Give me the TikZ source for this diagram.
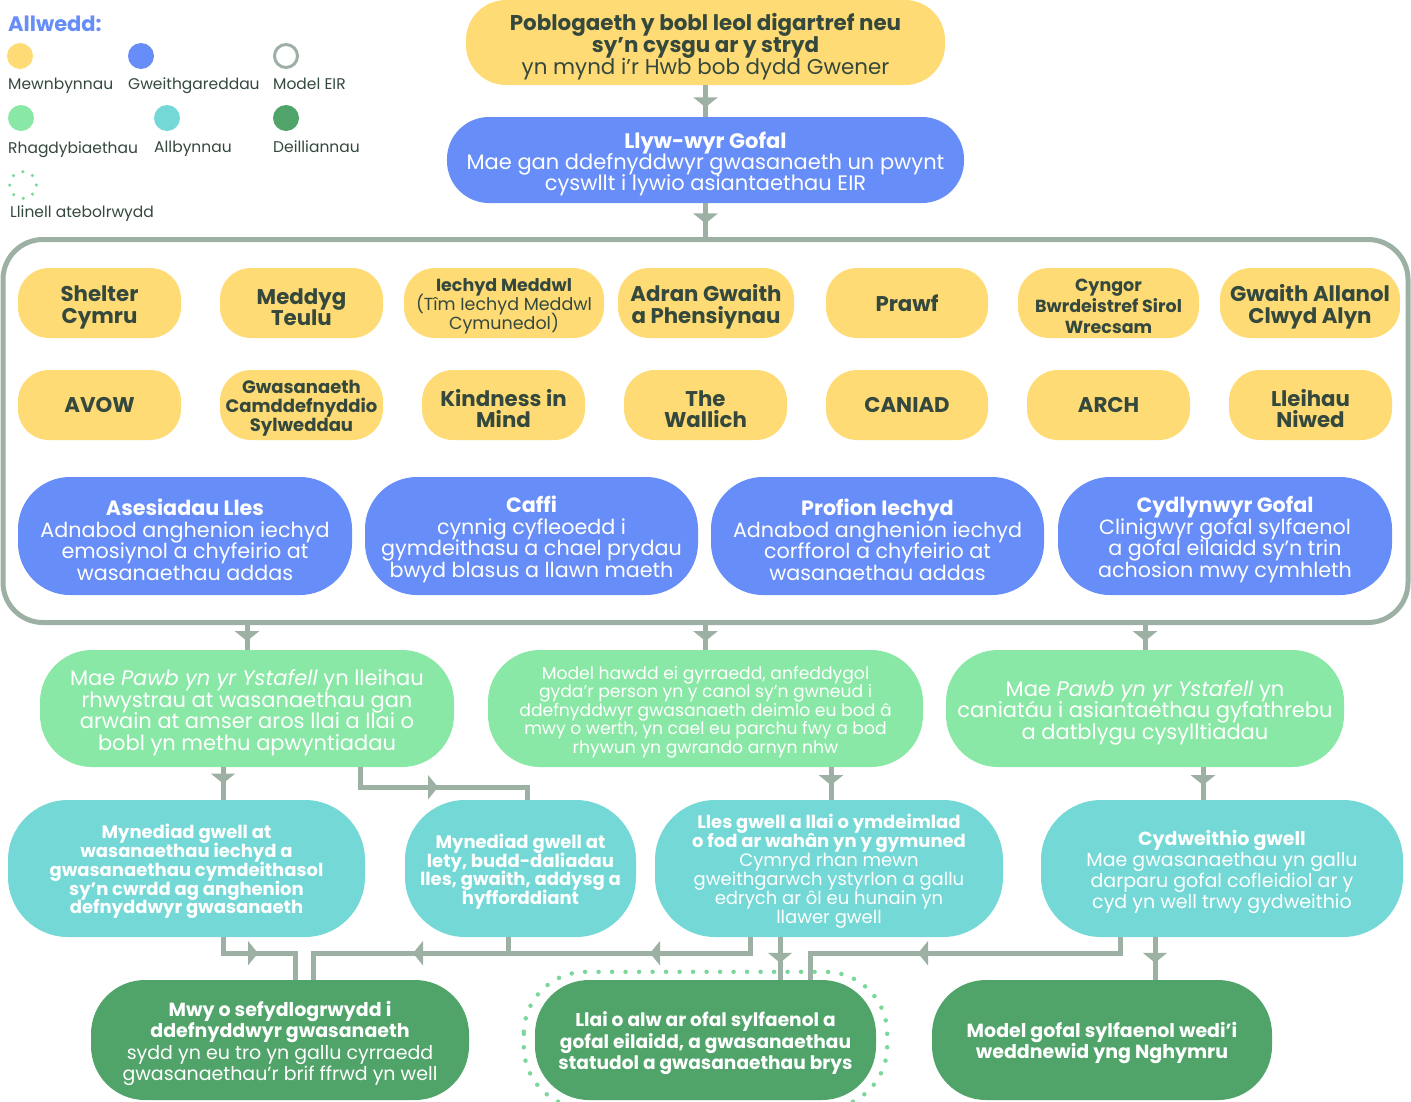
\documentclass[tikz,border=0pt]{standalone}
\usepackage{fontspec}
\setmainfont{Poppins}
\usepackage{tikz}
\usetikzlibrary{arrows.meta}
\usetikzlibrary{decorations.markings}

\definecolor{mewnc}{HTML}{FEDB74}
\definecolor{gweithc}{HTML}{678DF8}
\definecolor{rhagc}{HTML}{8AE8A6}
\definecolor{allbc}{HTML}{74D9D6}
\definecolor{deillc}{HTML}{50A46A}
\definecolor{llinc}{HTML}{9DB0A4}
\definecolor{atebc}{HTML}{7DD69A}
\definecolor{testunc}{HTML}{34483D}

\newcommand{\maint}[2]{\fontsize{#1}{#2}\selectfont\lineskiplimit=-50pt}
% strut for the first line, pushes the text block down a little
\newcommand{\uchaf}{\rule{0pt}{1.15em}}

\begin{document}
\begin{tikzpicture}[x=1pt, y=-1pt,
	pill/.style={rectangle, rounded corners=#1, inner sep=0pt, align=center},
	mewn/.style={pill=31pt, fill=mewnc, text=testunc, minimum width=163pt, minimum height=70pt, font=\bfseries\maint{21.3}{21.5}},
	mewnbach/.style={mewn, font=\maint{17.5}{19}},
	gweith/.style={pill=52pt, fill=gweithc, text=white, minimum width=333pt, minimum height=118pt, font=\maint{20.7}{21.5}},
	rhag/.style={pill=52pt, fill=rhagc, text=white, minimum height=117pt, font=\maint{21}{21.5}},
	allb/.style={pill=60pt, fill=allbc, text=white, minimum height=137pt, font=\maint{18}{18.7}},
	deill/.style={pill=54pt, fill=deillc, text=white, minimum height=120pt, font=\maint{19}{21.5}},
	cyswllt/.style={draw=llinc, line width=5pt},
	saeth/.style={postaction={decorate, decoration={markings, mark=at position #1 with {\arrow{Triangle[width=24pt,length=10pt]}}}}},
	saeth/.default=0.6,
	atebol/.style={draw=atebc, line cap=round, dash pattern=on 0pt off #1},
	allwedd/.style={anchor=base west, text=testunc, font=\maint{15.5}{17}, inner sep=0pt},
	]
	\useasboundingbox (0,0) rectangle (1411,1101);

	% allwedd
	\node[allwedd, text=gweithc, font=\bfseries\maint{21}{21}] (teitl) at (8,31) {Allwedd:};
	\node[circle, fill=mewnc, minimum size=26pt, inner sep=0pt] (k-mewn) at (20,56) {};
	\node[circle, fill=gweithc, minimum size=26pt, inner sep=0pt] (k-gweith) at (141,56) {};
	\node[circle, draw=llinc, line width=3pt, minimum size=23pt, inner sep=0pt] (k-eir) at (286,56) {};
	\node[circle, fill=rhagc, minimum size=26pt, inner sep=0pt] (k-rhag) at (21,118) {};
	\node[circle, fill=allbc, minimum size=26pt, inner sep=0pt] (k-allb) at (167,118) {};
	\node[circle, fill=deillc, minimum size=26pt, inner sep=0pt] (k-deill) at (286,118) {};
	\draw[atebol=10.45pt, line width=3.5pt] (23,185) circle (13.3pt);
	\node[allwedd] (l-mewn) at (8,89) {Mewnbynnau};
	\node[allwedd] (l-gweith) at (128,89) {Gweithgareddau};
	\node[allwedd] (l-eir) at (273,89) {Model EIR};
	\node[allwedd] (l-rhag) at (8,153) {Rhagdybiaethau};
	\node[allwedd] (l-allb) at (154,152) {Allbynnau};
	\node[allwedd] (l-deill) at (273,152) {Deilliannau};
	\node[allwedd] (l-ateb) at (10,217) {Llinell atebolrwydd};

	% top
	\node[mewn, pill=40pt, minimum width=479pt, minimum height=85pt, font=\maint{21.4}{22}] (pobl) at (705.5,42.5)
		{\uchaf\textbf{Poblogaeth y bobl leol digartref neu}\\\textbf{sy’n cysgu ar y stryd}\\yn mynd i’r Hwb bob dydd Gwener};
	\node[gweith, pill=42pt, minimum width=517pt, minimum height=86pt, font=\maint{21}{21}] (llyw) at (705.5,160)
		{\uchaf\textbf{Llyw-wyr Gofal}\\Mae gan ddefnyddwyr gwasanaeth un pwynt\\cyswllt i lywio asiantaethau EIR};

	% model EIR
	\node[draw=llinc, line width=5pt, rounded corners=40pt, minimum width=1405pt, minimum height=383pt, inner sep=0pt] (eir) at (705.5,431) {};

	\node[mewn] (shelter) at (99.5,303) {\uchaf Shelter\\Cymru};
	\node[mewn] (meddyg) at (301.5,303) {\uchaf Meddyg\\Teulu};
	\node[mewnbach, minimum width=200pt] (iechyd) at (504,303) {\uchaf\textbf{Iechyd Meddwl}\\(Tîm Iechyd Meddwl\\Cymunedol)};
	\node[mewn, minimum width=176pt] (adran) at (706,303) {\uchaf Adran Gwaith\\a Phensiynau};
	\node[mewn, minimum width=162pt] (prawf) at (907,303) {Prawf};
	\node[mewnbach, minimum width=181pt, font=\bfseries\maint{17.5}{21}] (cyngor) at (1108.5,303) {\uchaf Cyngor\\Bwrdeistref Sirol\\Wrecsam};
	\node[mewn, minimum width=180pt] (gwaith) at (1310,303) {\uchaf Gwaith Allanol\\Clwyd Alyn};

	\node[mewn] (avow) at (99.5,405) {AVOW};
	\node[mewnbach, font=\bfseries\maint{18}{19}] (camdd) at (301.5,405) {\uchaf Gwasanaeth\\Camddefnyddio\\Sylweddau};
	\node[mewn] (kindness) at (503.5,405) {\uchaf Kindness in\\Mind};
	\node[mewn] (wallich) at (705.5,405) {\uchaf The\\Wallich};
	\node[mewn, minimum width=162pt] (caniad) at (907,405) {CANIAD};
	\node[mewn] (arch) at (1108.5,405) {ARCH};
	\node[mewn] (lleihau) at (1310.5,405) {\uchaf Lleihau\\Niwed};

	\node[gweith, minimum width=334pt] (asesiad) at (185,536)
		{\uchaf\textbf{Asesiadau Lles}\\Adnabod anghenion iechyd\\emosiynol a chyfeirio at\\wasanaethau addas};
	\node[gweith] (caffi) at (531.5,536)
		{\uchaf\textbf{Caffi}\\cynnig cyfleoedd i\\gymdeithasu a chael prydau\\bwyd blasus a llawn maeth};
	\node[gweith] (profion) at (877.5,536)
		{\uchaf\textbf{Profion Iechyd}\\Adnabod anghenion iechyd\\corfforol a chyfeirio at\\wasanaethau addas};
	\node[gweith, minimum width=334pt] (cydlyn) at (1225,536)
		{\uchaf\textbf{Cydlynwyr Gofal}\\Clinigwyr gofal sylfaenol\\a gofal eilaidd sy’n trin\\achosion mwy cymhleth};

	% rhagdybiaethau
	\node[rhag, minimum width=414pt] (g1) at (247,708.5)
		{\uchaf Mae \textit{Pawb yn yr Ystafell} yn lleihau\\rhwystrau at wasanaethau gan\\arwain at amser aros llai a llai o\\bobl yn methu apwyntiadau};
	\node[rhag, minimum width=435pt, font=\maint{17.2}{18.5}] (g2) at (705.5,708.5)
		{\uchaf Model hawdd ei gyrraedd, anfeddygol\\gyda’r person yn y canol sy’n gwneud i\\ddefnyddwyr gwasanaeth deimlo eu bod â\\mwy o werth, yn cael eu parchu fwy a bod\\rhywun yn gwrando arnyn nhw};
	\node[rhag, minimum width=398pt] (g3) at (1145,708.5)
		{\uchaf Mae \textit{Pawb yn yr Ystafell} yn\\caniatáu i asiantaethau gyfathrebu\\a datblygu cysylltiadau};

	% allbynnau
	\node[allb, minimum width=357pt, font=\bfseries\maint{18}{18.7}] (t1) at (186.5,868.5)
		{\uchaf Mynediad gwell at\\wasanaethau iechyd a\\gwasanaethau cymdeithasol\\sy’n cwrdd ag anghenion\\defnyddwyr gwasanaeth};
	\node[allb, minimum width=231pt, font=\bfseries\maint{18}{18.7}] (t2) at (520.5,868.5)
		{\uchaf Mynediad gwell at\\lety, budd-daliadau\\lles, gwaith, addysg a\\hyfforddiant};
	\node[allb, minimum width=348pt, font=\maint{18}{19}] (t3) at (829,868.5)
		{\uchaf\textbf{Lles gwell a llai o ymdeimlad}\\\textbf{o fod ar wahân yn y gymuned}\\Cymryd rhan mewn\\gweithgarwch ystyrlon a gallu\\edrych ar ôl eu hunain yn\\llawer gwell};
	\node[allb, minimum width=362pt, font=\maint{19}{21}] (t4) at (1222,868.5)
		{\uchaf\textbf{Cydweithio gwell}\\Mae gwasanaethau yn gallu\\darparu gofal cofleidiol ar y\\cyd yn well trwy gydweithio};

	% deilliannau
	\node[deill, minimum width=378pt] (d1) at (280,1040)
		{\uchaf\textbf{Mwy o sefydlogrwydd i}\\\textbf{ddefnyddwyr gwasanaeth}\\sydd yn eu tro yn gallu cyrraedd\\gwasanaethau’r brif ffrwd yn well};
	\node[deill, minimum width=341pt, font=\bfseries\maint{18.6}{21.5}] (d2) at (705.5,1040)
		{\uchaf Llai o alw ar ofal sylfaenol a\\gofal eilaidd, a gwasanaethau\\statudol a gwasanaethau brys};
	\node[deill, minimum width=340pt, font=\bfseries\maint{19}{21}] (d3) at (1102,1040)
		{\uchaf Model gofal sylfaenol wedi’i\\weddnewid yng Nghymru};
	\draw[atebol=13.5pt, line width=4.5pt, rounded corners=62pt]
		([xshift=-11pt,yshift=8pt]d2.north west) rectangle ([xshift=11pt,yshift=-8pt]d2.south east);

	% cysylltiadau
	\draw[cyswllt, saeth=0.7] (pobl.south) -- (pobl.south |- llyw.north);
	\draw[cyswllt, saeth=0.6] (llyw.south) -- (llyw.south |- eir.north);
	\draw[cyswllt, saeth=0.65] (eir.south -| g1.north) -- (g1.north);
	\draw[cyswllt, saeth=0.65] (eir.south -| g2.north) -- (g2.north);
	\draw[cyswllt, saeth=0.65] (eir.south -| g3.north) -- (g3.north);
	\draw[cyswllt, saeth=0.5] ([xshift=-24pt]g1.south) -- ([xshift=-24pt]g1.south |- t1.north);
	\draw[cyswllt, saeth=98pt] ([xshift=113pt]g1.south) -- ++(0,20) -| ([xshift=6.5pt]t2.north);
	\draw[cyswllt, saeth=0.55] ([xshift=2pt]t3.north |- g2.south) -- ([xshift=2pt]t3.north);
	\draw[cyswllt, saeth=0.55] ([xshift=-19pt]t4.north |- g3.south) -- ([xshift=-19pt]t4.north);
	\draw[cyswllt, saeth=51pt] ([xshift=36.5pt]t1.south) -- ++(0,16) -| ([xshift=15pt]d1.north);
	\draw[cyswllt, saeth=111pt] ([xshift=-12.5pt]t2.south) -- ++(0,16) -| ([xshift=33pt]d1.north);
	\draw[cyswllt, saeth=116pt] ([xshift=-79pt]t3.south) -- ++(0,16) -| ([xshift=33pt]d1.north);
	\draw[cyswllt, saeth=0.6] ([xshift=74.5pt]d2.north |- t3.south) -- ([xshift=74.5pt]d2.north);
	\draw[cyswllt, saeth=218pt] ([xshift=-102pt]t4.south) -- ++(0,16) -| ([xshift=104.5pt]d2.north);
	\draw[cyswllt, saeth=0.6] ([xshift=53pt]d3.north |- t4.south) -- ([xshift=53pt]d3.north);
\end{tikzpicture}
\end{document}
